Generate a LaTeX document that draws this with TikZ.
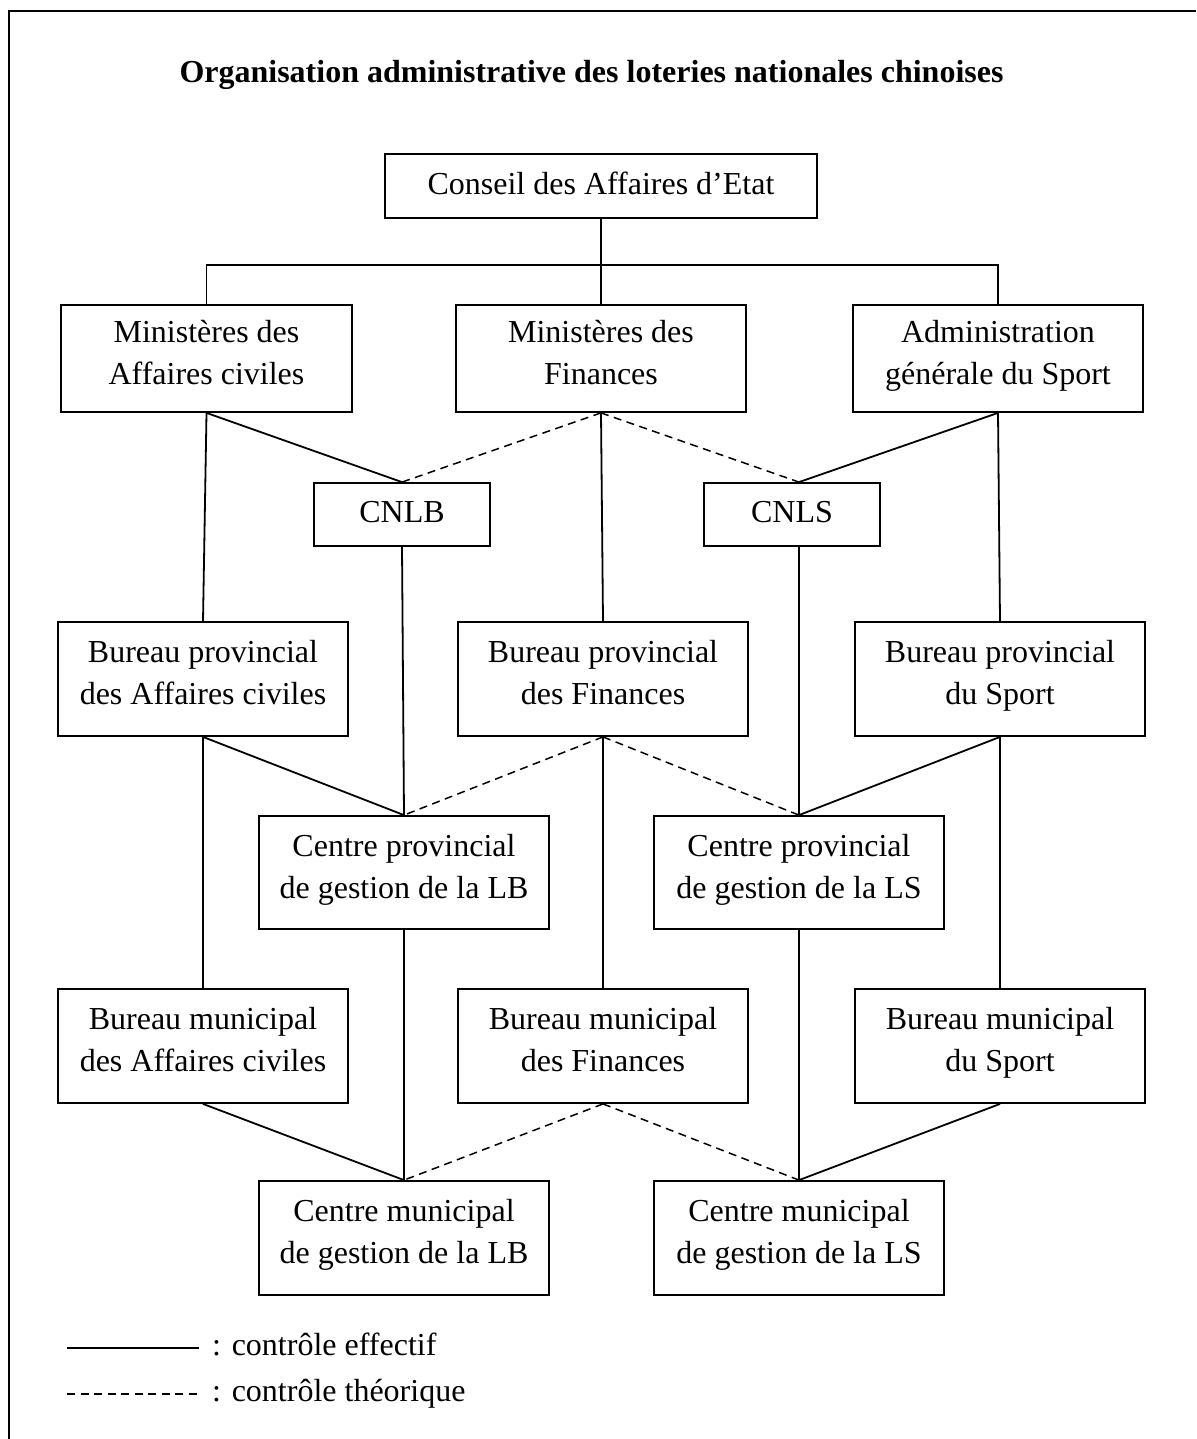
\documentclass[tikz,border=0pt]{standalone}
\usepackage{fontspec}
\setmainfont{Liberation Serif}
\begin{document}
\begin{tikzpicture}[x=1pt,y=-1pt,
  txt/.style={font=\fontsize{32}{42}\selectfont, inner sep=0pt},
  box/.style={draw, line width=1.8pt, txt, align=center, minimum width=290pt, minimum height=114pt,
    execute at begin node=\strut, execute at end node=\strut},
  lnk/.style={line width=1.8pt},
  theo/.style={line width=1.5pt, dash pattern=on 8pt off 5.5pt}]
\useasboundingbox (0,0) rectangle (1196,1439);
% frame
\draw[line width=2pt] (8.5,1439) -- (8.5,11.5) -- (1196,11.5);
% title
\node[txt, font=\fontsize{32}{42}\selectfont\bfseries, anchor=base] (title) at (591.5,83) {Organisation administrative des loteries nationales chinoises};
% boxes
\node[box, minimum width=432pt, minimum height=64pt] (conseil) at (601,186) {Conseil des Affaires d’Etat};
\node[box, minimum height=107pt, minimum width=291pt] (minac) at (206.5,358.5) {Ministères des\\Affaires civiles};
\node[box, minimum height=107pt] (minfin) at (601,358.5) {Ministères des\\Finances};
\node[box, minimum height=107pt] (admin) at (998,358.5) {Administration\\générale du Sport};
\node[box, minimum width=176pt, minimum height=63pt] (cnlb) at (402,514.5) {CNLB};
\node[box, minimum width=176pt, minimum height=63pt] (cnls) at (792,514.5) {CNLS};
\node[box] (bpac) at (203,679) {Bureau provincial\\des Affaires civiles};
\node[box] (bpfin) at (603,679) {Bureau provincial\\des Finances};
\node[box] (bpsp) at (1000,679) {Bureau provincial\\du Sport};
\node[box, minimum height=113pt] (cplb) at (404,872.5) {Centre provincial\\de gestion de la LB};
\node[box, minimum height=113pt] (cpls) at (799,872.5) {Centre provincial\\de gestion de la LS};
\node[box] (bmac) at (203,1046) {Bureau municipal\\des Affaires civiles};
\node[box] (bmfin) at (603,1046) {Bureau municipal\\des Finances};
\node[box] (bmsp) at (1000,1046) {Bureau municipal\\du Sport};
\node[box] (cmlb) at (404,1238) {Centre municipal\\de gestion de la LB};
\node[box] (cmls) at (799,1238) {Centre municipal\\de gestion de la LS};
% top tree
\coordinate (bus) at (601,265);
\draw[lnk] (conseil.south) -- (minfin.north);
\draw[lnk] (minac.north) -- (minac.north |- bus) -- (admin.north |- bus) -- (admin.north);
% vertical columns
\draw[lnk] (minac.south) -- (bpac.north);
\draw[lnk] (bpac.south) -- (bmac.north);
\draw[lnk] (minfin.south) -- (bpfin.north);
\draw[lnk] (bpfin.south) -- (bmfin.north);
\draw[lnk] (admin.south) -- (bpsp.north);
\draw[lnk] (bpsp.south) -- (bmsp.north);
\draw[lnk] (cnlb.south) -- (cplb.north);
\draw[lnk] (cplb.south) -- (cmlb.north);
\draw[lnk] (cnls.south -| cpls.north) -- (cpls.north);
\draw[lnk] (cpls.south) -- (cmls.north);
% national level diagonals
\draw[lnk] (minac.south) -- (cnlb.north);
\draw[theo] (minfin.south) -- (cnlb.north);
\draw[theo] (minfin.south) -- (cnls.north -| cpls.north);
\draw[lnk] (admin.south) -- (cnls.north -| cpls.north);
% provincial level diagonals
\draw[lnk] (bpac.south) -- (cplb.north);
\draw[theo] (bpfin.south) -- (cplb.north);
\draw[theo] (bpfin.south) -- (cpls.north);
\draw[lnk] (bpsp.south) -- (cpls.north);
% municipal level diagonals
\draw[lnk] (bmac.south) -- (cmlb.north);
\draw[theo] (bmfin.south) -- (cmlb.north);
\draw[theo] (bmfin.south) -- (cmls.north);
\draw[lnk] (bmsp.south) -- (cmls.north);
% legend
\coordinate (la) at (67,1348);
\coordinate (lb) at (199,1348);
\coordinate (lc) at (67,1394);
\coordinate (ld) at (199,1394);
\draw[lnk] (la) -- (lb);
\draw[theo] (lc) -- (ld);
\node[txt, anchor=base west] (leg1) at (212,1355) {: contrôle effectif};
\node[txt, anchor=base west] (leg2) at (212,1401) {: contrôle théorique};
\end{tikzpicture}
\end{document}
